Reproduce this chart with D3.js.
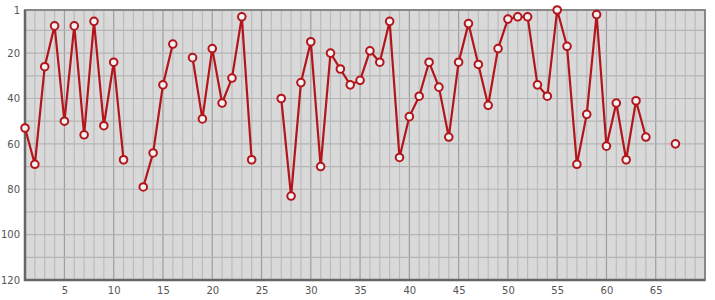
<!DOCTYPE html>
<html>
<head>
<meta charset="utf-8">
<script src="https://cdn.jsdelivr.net/npm/d3@7"></script>
<style>
  body { margin: 0; background: #fff; }
  .tick text { font-family: "DejaVu Sans", sans-serif; font-size: 10px; fill: #555; }
</style>
</head>
<body>
<div id="chart"></div>
<script>
// data: position 1..67, null where there is no value
var positions = d3.range(1, 68);
var values = [53, 69, 26, 8, 50, 8, 56, 6, 52, 24,
    67, null, 79, 64, 34, 16, null, 22, 49, 18,
    42, 31, 4, 67, null, null, 40, 83, 33, 15,
    70, 20, 27, 34, 32, 19, 24, 6, 66, 48,
    39, 24, 35, 57, 24, 7, 25, 43, 18, 5,
    4, 4, 34, 39, 1, 17, 69, 47, 3, 61,
    42, 67, 41, 57, null, null, 60];
var xTicks = [5, 10, 15, 20, 25, 30, 35, 40, 45, 50, 55, 60, 65];
var yTicks = [1, 20, 40, 60, 80, 100, 120];

var svgWidth = 715;
var svgHeight = 300;
var margin = { top: 10, right: 10, bottom: 20, left: 25 };
var width = svgWidth - margin.left - margin.right;
var height = svgHeight - margin.top - margin.bottom;

var data = positions.map(function (p, i) { return { x: p, y: values[i] }; });

var svg = d3.select("#chart").append("svg")
    .attr("width", svgWidth)
    .attr("height", svgHeight);

var chartGroup = svg.append("g")
    .attr("transform", `translate(${margin.left}, ${margin.top})`);

var xscale = d3.scaleLinear().domain([1, 70]).range([0, width]);
var yscale = d3.scaleLinear().domain([1, 120]).range([0, height]);

// background
chartGroup.append("rect")
    .attr("width", width)
    .attr("height", height)
    .attr("fill", "#d9d9d9");

// grid
chartGroup.selectAll(".vgrid")
    .data(d3.range(2, 70))
    .enter().append("line")
    .attr("x1", d => xscale(d)).attr("x2", d => xscale(d))
    .attr("y1", 0).attr("y2", height)
    .attr("stroke", d => d % 5 === 0 ? "#9e9e9e" : "#bcbcbc")
    .attr("stroke-width", 1.2);

chartGroup.selectAll(".hgrid")
    .data(d3.range(10, 120, 10))
    .enter().append("line")
    .attr("x1", 0).attr("x2", width)
    .attr("y1", d => yscale(d)).attr("y2", d => yscale(d))
    .attr("stroke", "#b4b4b4")
    .attr("stroke-width", 1.2);

// frame
chartGroup.append("rect")
    .attr("width", width)
    .attr("height", height)
    .attr("fill", "none")
    .attr("stroke", "#888")
    .attr("stroke-width", 2);
chartGroup.append("path")
    .attr("d", `M0,0V${height}H${width}`)
    .attr("fill", "none")
    .attr("stroke", "#666")
    .attr("stroke-width", 2.5);

// axes
var bottomAxis = d3.axisBottom(xscale).tickValues(xTicks).tickSize(0).tickPadding(7);
var leftAxis = d3.axisLeft(yscale).tickValues(yTicks).tickSize(0).tickPadding(5);

var xAxis = chartGroup.append("g")
    .attr("transform", `translate(0, ${height})`)
    .call(bottomAxis);
xAxis.select(".domain").remove();

var yAxis = chartGroup.append("g").call(leftAxis);
yAxis.select(".domain").remove();

// line with gaps
var line = d3.line()
    .defined(d => d.y !== null)
    .x(d => xscale(d.x))
    .y(d => yscale(d.y));

chartGroup.append("path")
    .datum(data)
    .attr("d", line)
    .attr("fill", "none")
    .attr("stroke", "#b3151b")
    .attr("stroke-width", 2.2)
    .attr("stroke-linejoin", "round");

chartGroup.selectAll("circle")
    .data(data.filter(d => d.y !== null))
    .enter().append("circle")
    .attr("cx", d => xscale(d.x))
    .attr("cy", d => yscale(d.y))
    .attr("r", 3.8)
    .attr("fill", "#f2f2f2")
    .attr("stroke", "#b3151b")
    .attr("stroke-width", 2);
</script>
</body>
</html>
